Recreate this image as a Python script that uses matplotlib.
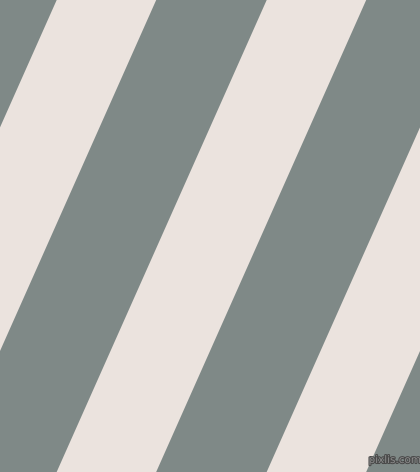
import matplotlib
matplotlib.use("Agg")
import matplotlib.pyplot as plt
import matplotlib.patheffects as pe

# Stripe data (pixel space of the 420x472 picture)
width_px = 420
height_px = 472
light_starts_top = [56.7, 266.7, 476.7]   # x where each light stripe begins at the top edge
light_width = 99.5                        # horizontal width of a light stripe
shift_per_px = 0.445                      # leftward shift of stripe edges per pixel downward
gray_color = "#7f8987"
light_color = "#ebe3de"
watermark = "pixlis.com"

fig = plt.figure(figsize=(4.2, 4.72), dpi=100)
ax = fig.add_axes([0, 0, 1, 1])
ax.set_xlim(0, width_px)
ax.set_ylim(height_px, 0)
ax.axis("off")
fig.patch.set_facecolor(gray_color)
ax.set_facecolor(gray_color)

for x0 in light_starts_top:
    dx = shift_per_px * height_px
    xs = [x0, x0 + light_width, x0 + light_width - dx, x0 - dx]
    ys = [0, 0, height_px, height_px]
    ax.fill(xs, ys, color=light_color, linewidth=0)

ax.text(395, 460, watermark, fontsize=7.5, color="#8c8c8c", ha="center", va="center",
        path_effects=[pe.withStroke(linewidth=1.5, foreground="#4a4a4a")])

fig.savefig("out.png", dpi=100, facecolor=gray_color)
